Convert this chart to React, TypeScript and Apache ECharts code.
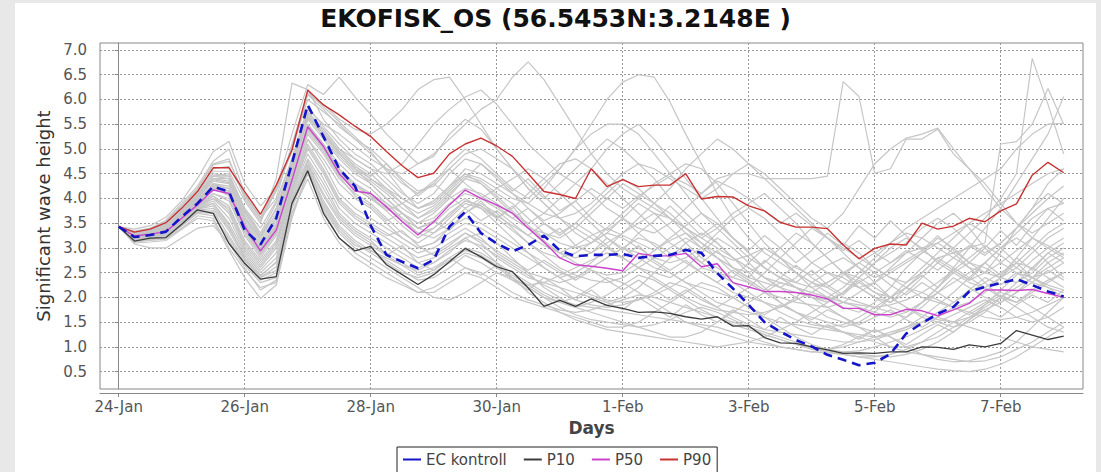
import React, { useEffect, useRef } from "react";
import * as echarts from "echarts";

// Time step: 6 hours, starting 24-Jan 00:00 (values are in days from 24-Jan)
const stepDays = 0.25;
const xTickDays = [0, 2, 4, 6, 8, 10, 12, 14];
const xTickLabels = ["24-Jan", "26-Jan", "28-Jan", "30-Jan", "1-Feb", "3-Feb", "5-Feb", "7-Feb"];
const yTicks = [0.5, 1.0, 1.5, 2.0, 2.5, 3.0, 3.5, 4.0, 4.5, 5.0, 5.5, 6.0, 6.5, 7.0];

const ecKontroll = [
  3.43, 3.22, 3.26, 3.33, 3.63, 3.90, 4.24, 4.14, 3.36, 3.07, 3.60, 4.71,
  5.89, 5.25, 4.60, 4.25, 3.45, 2.86, 2.72, 2.59, 2.76, 3.43, 3.73, 3.30,
  3.09, 2.93, 3.06, 3.25, 2.95, 2.83, 2.86, 2.86, 2.88, 2.80, 2.84, 2.86,
  2.96, 2.90, 2.49, 2.18, 1.85, 1.50, 1.31, 1.14, 1.01, 0.84, 0.74, 0.63,
  0.68, 0.86, 1.27, 1.48, 1.67, 1.81, 2.12, 2.21, 2.29, 2.37, 2.25, 2.12, 2.02,
];
const p10 = [
  3.43, 3.14, 3.20, 3.21, 3.48, 3.77, 3.70, 3.09, 2.69, 2.37, 2.42, 3.90,
  4.56, 3.70, 3.20, 2.94, 3.03, 2.66, 2.46, 2.26, 2.46, 2.72, 2.99, 2.82,
  2.62, 2.52, 2.19, 1.82, 1.94, 1.82, 1.97, 1.84, 1.78, 1.70, 1.71, 1.68,
  1.61, 1.56, 1.61, 1.42, 1.43, 1.19, 1.08, 1.07, 1.00, 0.94, 0.87, 0.88,
  0.87, 0.90, 0.90, 1.00, 0.99, 0.95, 1.04, 1.00, 1.07, 1.33, 1.24, 1.15, 1.22,
];
const p50 = [
  3.43, 3.24, 3.28, 3.33, 3.60, 3.87, 4.17, 4.10, 3.43, 2.94, 3.36, 4.37,
  5.45, 5.05, 4.50, 4.15, 4.10, 3.83, 3.53, 3.26, 3.53, 3.87, 4.17, 4.00,
  3.87, 3.70, 3.40, 3.12, 2.80, 2.66, 2.63, 2.59, 2.54, 2.89, 2.84, 2.84,
  2.89, 2.62, 2.68, 2.30, 2.21, 2.12, 2.12, 2.10, 2.05, 1.97, 1.78, 1.78,
  1.65, 1.65, 1.76, 1.73, 1.63, 1.75, 1.88, 2.15, 2.15, 2.14, 2.16, 2.08, 2.00,
];
const p90 = [
  3.43, 3.32, 3.38, 3.51, 3.80, 4.14, 4.62, 4.62, 4.14, 3.68, 4.27, 4.98,
  6.19, 5.89, 5.69, 5.46, 5.25, 4.95, 4.66, 4.42, 4.51, 4.90, 5.10, 5.22,
  5.06, 4.85, 4.50, 4.14, 4.08, 4.00, 4.60, 4.24, 4.38, 4.24, 4.27, 4.27,
  4.50, 3.99, 4.04, 4.03, 3.85, 3.75, 3.52, 3.42, 3.42, 3.39, 3.06, 2.78,
  2.99, 3.08, 3.06, 3.50, 3.38, 3.44, 3.60, 3.53, 3.75, 3.89, 4.47, 4.73, 4.52,
];

// Ensemble members (grey)
const member01 = [3.43,3.38,3.45,3.62, 3.95,4.40,4.95,5.15, 4.30,3.85,4.20,5.30, 6.30,6.10,6.45,6.05, 5.70,5.30,5.00,4.70, 4.85,5.30,5.60,5.40, 5.00,4.60,4.20,3.90, 3.60,3.30,3.10,3.30, 3.60,3.90,3.70,3.40, 3.10,2.80,2.60,2.40, 2.70,3.00,2.80,2.50, 2.20,2.00,1.80,1.70, 1.90,2.20,2.60,2.90, 3.20,3.00,2.70,2.50, 2.90,3.40,3.80,4.10, 3.90];
const member02 = [3.43,3.30,3.36,3.50, 3.85,4.20,4.70,4.80, 4.00,3.55,4.15,5.00, 6.00,5.75,5.50,5.20, 4.90,4.60,4.30,4.10, 4.30,4.70,5.00,4.80, 4.50,4.20,4.00,4.30, 4.60,5.00,5.50,6.00, 6.35,6.50,6.45,5.95, 5.30,4.70,4.10,3.60, 3.20,2.90,2.70,2.50, 2.30,2.20,2.00,1.90, 1.80,1.70,1.60,1.80, 2.10,2.40,2.20,2.00, 1.90,2.10,2.40,2.70, 2.90];
const member03 = [3.43,3.28,3.33,3.45, 3.75,4.05,4.45,4.50, 3.80,3.30,3.90,4.80, 5.80,5.50,5.30,5.05, 4.80,4.60,4.50,4.70, 4.90,5.20,5.50,5.80, 6.00,6.45,6.76,6.40, 5.90,5.40,4.90,4.50, 4.20,4.00,3.80,3.60, 3.40,3.20,3.40,3.70, 3.90,4.10,3.80,3.50, 3.10,2.80,2.50,2.30, 2.10,2.00,2.20,2.50, 2.80,2.60,2.40,2.20, 2.00,1.90,2.10,2.30, 2.50];
const member04 = [3.43,3.34,3.40,3.56, 3.90,4.25,4.75,5.00, 4.10,3.60,4.00,5.10, 6.10,5.90,5.60,5.40, 5.30,5.50,5.80,6.20, 6.40,6.45,6.00,5.50, 5.00,4.60,4.20,3.90, 3.60,3.40,3.20,3.00, 2.80,2.60,2.50,2.40, 2.60,2.90,3.20,3.00, 2.70,2.40,2.20,2.00, 1.80,1.60,1.50,1.40, 1.30,1.40,1.60,1.90, 2.20,2.50,2.70,2.60, 2.40,2.30,2.50,2.80, 3.00];
const member05 = [3.43,3.26,3.30,3.40, 3.70,4.00,4.40,4.40, 3.60,3.20,3.80,4.60, 5.60,5.40,5.00,4.80, 4.60,4.50,4.70,5.10, 5.50,5.80,6.05,6.19, 5.90,5.50,5.10,4.80, 4.50,4.30,4.60,5.00, 5.30,5.50,5.20,4.80, 4.40,4.00,3.60,3.20, 2.90,2.60,2.40,2.20, 2.00,1.90,2.10,2.40, 2.70,3.00,3.20,3.00, 2.70,2.50,2.30,2.20, 2.40,2.70,3.00,3.30, 3.50];
const member06 = [3.43,3.25,3.29,3.35, 3.62,3.90,4.20,4.15, 3.45,2.95,3.40,4.40, 5.50,5.10,4.60,4.30, 4.10,3.90,3.70,3.50, 3.70,4.00,4.20,4.10, 3.90,3.70,3.50,3.70, 4.00,4.30,4.10,3.80, 3.60,3.40,3.30,3.50, 3.80,4.10,4.40,4.50, 4.50,4.40,4.40,4.40, 4.40,4.45,6.36,6.06, 4.51,4.60,5.20,5.20, 5.40,4.90,4.60,4.30, 3.90,3.50,3.20,3.00, 2.80];
const member07 = [3.43,3.20,3.24,3.28, 3.55,3.80,4.00,3.80, 3.10,2.70,3.10,4.20, 5.20,4.70,4.10,3.80, 3.60,3.40,3.20,3.00, 3.10,3.40,3.60,3.50, 3.30,3.10,2.90,2.70, 2.50,2.40,2.60,2.80, 3.00,3.20,3.10,2.90, 2.70,2.50,2.30,2.10, 2.00,1.90,1.80,2.00, 2.30,2.50,2.40,2.20, 2.00,1.90,2.10,2.40, 2.70,3.00,3.30,3.60, 4.00,4.50,6.83,5.90, 4.90];
const member08 = [3.43,3.23,3.28,3.36, 3.64,3.92,4.22,4.12, 3.40,2.92,3.38,4.38, 5.48,5.08,4.55,4.20, 4.00,3.75,3.45,3.20, 3.40,3.70,3.95,3.85, 3.60,3.35,3.10,2.85, 2.60,2.45,2.35,2.30, 2.40,2.60,2.80,3.00, 3.20,3.00,2.80,2.60, 2.40,2.30,2.20,2.40, 2.70,2.90,3.10,2.90, 2.60,2.40,2.30,2.50, 2.80,2.90,3.00,3.10, 5.10,5.15,5.50,6.22, 5.50];
const member09 = [3.43,3.30,3.35,3.48, 3.80,4.10,4.55,4.55, 3.95,3.50,4.40,6.33, 6.20,5.60,5.20,4.90, 4.70,4.40,4.10,3.90, 4.10,4.50,4.80,4.70, 4.40,4.10,3.80,3.50, 3.30,3.50,3.80,4.10, 4.40,4.20,3.90,3.60, 3.30,3.00,2.80,2.60, 2.50,2.70,3.00,3.30, 3.10,2.80,2.50,2.20, 2.00,1.80,1.70,1.90, 2.20,2.60,3.00,3.40, 3.80,4.30,4.80,5.30, 6.06];
const member10 = [3.43,3.12,3.15,3.18, 3.40,3.65,3.60,3.00, 2.55,2.20,2.30,3.70, 4.50,3.80,3.30,3.00, 2.80,2.60,2.40,2.20, 2.00,1.95,2.10,2.30, 2.50,2.40,2.20,2.00, 1.80,1.65,1.55,1.50, 1.45,1.40,1.45,1.55, 1.70,1.80,1.70,1.55, 1.40,1.25,1.15,1.05, 0.95,0.90,0.85,0.80, 0.80,0.85,0.95,1.10, 1.30,1.50,1.70,1.90, 2.10,2.00,1.80,1.60, 1.40];
const member11 = [3.43,3.22,3.27,3.36, 3.65,3.95,4.30,4.20, 3.50,3.00,3.50,4.50, 5.60,5.20,4.80,4.50, 4.30,4.00,3.70,3.40, 3.30,3.50,3.80,4.00, 4.20,4.40,4.60,4.40, 4.10,3.80,3.50,3.20, 3.00,2.80,2.60,2.50, 2.30,2.20,2.10,2.00, 2.20,2.50,2.80,3.10, 3.40,3.20,2.90,2.60, 2.30,2.00,1.80,1.60, 1.50,1.40,1.50,1.70, 2.00,2.30,2.60,2.90, 3.10];
const member12 = [3.43,3.16,3.22,3.25, 3.50,3.80,3.90,3.50, 2.90,2.50,2.80,4.00, 4.80,4.30,3.70,3.40, 3.20,3.00,2.80,2.60, 2.70,2.90,3.20,3.30, 3.10,2.80,2.50,2.20, 2.00,1.80,1.70,1.60, 1.50,1.40,1.30,1.20, 1.20,1.30,1.50,1.70, 1.90,2.10,2.30,2.20, 2.00,1.80,1.60,1.40, 1.20,1.00,0.90,0.85, 0.80,0.75,0.70,0.72, 0.80,0.95,1.10,1.30, 1.50];
const member13 = [3.43,3.28,3.32,3.42, 3.72,4.00,4.40,4.35, 3.70,3.20,3.70,4.70, 5.70,5.30,4.90,4.60, 4.40,4.20,4.00,3.80, 3.90,4.20,4.50,4.40, 4.20,4.00,3.90,4.20, 4.60,5.00,5.30,5.50, 5.50,5.30,4.90,4.50, 4.10,3.70,3.40,3.10, 2.80,2.60,2.40,2.30, 2.20,2.30,2.50,2.70, 2.90,3.10,3.30,3.20, 3.00,2.80,2.60,2.50, 2.40,2.60,2.90,3.20, 3.40];
const member14 = [3.43,3.15,3.18,3.22, 3.45,3.70,3.65,3.20, 2.70,2.35,2.50,3.85, 4.60,3.90,3.40,3.10, 2.90,2.70,2.50,2.40, 2.50,2.70,2.90,2.80, 2.60,2.40,2.20,2.00, 1.90,2.00,2.20,2.40, 2.30,2.10,1.90,1.70, 1.50,1.40,1.30,1.20, 1.10,1.05,1.00,0.95, 0.90,0.88,0.85,0.80, 0.75,0.70,0.65,0.60, 0.55,0.52,0.50,0.55, 0.65,0.80,1.00,1.20, 1.40];
const member15 = [3.43,3.23,3.27,3.34, 3.60,3.85,4.10,4.00, 3.30,2.85,3.30,4.30, 5.30,4.90,4.40,4.10, 3.90,3.60,3.30,3.10, 3.30,3.60,3.90,3.80, 3.60,3.80,4.10,4.40, 4.70,4.80,4.60,4.30, 4.00,3.70,3.40,3.10, 2.90,2.70,2.50,2.40, 2.30,2.10,1.90,1.70, 1.60,1.50,1.40,1.50, 1.70,2.00,2.30,2.60, 2.90,3.20,3.50,3.30, 3.00,2.70,2.40,2.20, 2.00];
const member16 = [3.43,3.20,3.25,3.30, 3.55,3.82,4.05,3.85, 3.15,2.75,3.15,4.20, 5.10,4.60,4.00,3.70, 3.50,3.30,3.10,2.90, 3.00,3.20,3.40,3.20, 2.90,2.70,2.50,2.40, 2.30,2.40,2.60,2.80, 3.00,2.90,2.70,2.50, 2.30,2.10,1.90,1.80, 1.70,1.60,1.50,1.45, 1.40,1.35,1.30,1.25, 1.20,1.25,1.35,1.50, 1.70,1.90,2.10,2.30, 2.50,2.70,2.60,2.40, 2.20];
const member17 = [3.43,3.27,3.31,3.40, 3.70,4.00,4.35,4.30, 3.60,3.10,3.60,4.60, 5.70,5.30,4.90,4.60, 4.30,4.00,3.70,3.50, 3.60,3.90,4.10,4.00, 3.80,3.60,3.40,3.30, 3.20,3.40,3.70,4.00, 4.30,4.10,3.90,4.20, 4.60,4.90,5.20,5.00, 4.70,4.40,4.10,3.80, 3.50,3.20,3.00,2.80, 2.60,2.40,2.20,2.00, 1.90,1.80,1.90,2.10, 2.40,2.80,3.20,3.60, 4.00];
const member18 = [3.43,3.25,3.30,3.38, 3.68,3.98,4.30,4.25, 3.55,3.05,3.55,4.55, 5.65,5.25,4.85,4.55, 4.35,4.10,3.80,3.60, 3.80,4.10,4.40,4.30, 4.00,3.70,3.40,3.10, 2.90,2.80,2.90,3.10, 3.30,3.50,3.70,3.60, 3.40,3.20,3.00,2.80, 2.60,2.40,2.30,2.20, 2.10,2.00,2.20,2.50, 2.80,3.10,3.40,3.60, 3.80,4.00,4.20,4.40, 4.60,5.00,5.30,5.50, 5.52];
const member19 = [3.43,3.10,3.12,3.15, 3.38,3.60,3.55,2.95, 2.40,1.98,2.25,3.60, 4.55,3.75,3.20,2.90, 2.70,2.50,2.30,2.10, 2.10,2.30,2.50,2.40, 2.20,2.00,1.90,1.80, 1.70,1.60,1.50,1.40, 1.40,1.50,1.70,1.90, 2.10,2.30,2.20,2.00, 1.80,1.60,1.40,1.20, 1.05,0.95,0.90,0.92, 1.00,1.10,1.20,1.35, 1.50,1.65,1.80,1.95, 1.80,1.60,1.50,1.60, 1.80];
const member20 = [3.43,3.24,3.29,3.37, 3.66,3.93,4.25,4.10, 3.40,2.90,3.40,4.40, 5.40,5.00,4.50,4.20, 4.00,3.80,3.60,3.40, 3.50,3.80,4.00,3.80, 3.50,3.20,2.90,2.60, 2.40,2.50,2.70,3.00, 3.30,3.60,3.90,3.70, 3.40,3.10,2.80,2.50, 2.30,2.10,2.00,1.90, 1.85,1.80,1.90,2.10, 2.30,2.60,2.90,3.20, 3.50,3.70,3.40,3.00, 2.70,2.50,2.40,2.50, 2.70];
const member21 = [3.43,3.19,3.24,3.30, 3.56,3.84,4.00,3.70, 3.00,2.60,3.00,4.10, 5.00,4.50,3.90,3.60, 3.40,3.20,3.00,2.80, 2.90,3.10,3.30,3.10, 2.80,2.60,2.40,2.30, 2.20,2.10,2.00,1.90, 2.00,2.20,2.50,2.80, 3.10,3.30,3.10,2.80, 2.50,2.20,1.90,1.70, 1.50,1.40,1.30,1.20, 1.10,1.00,1.00,1.10, 1.20,1.40,1.60,1.80, 2.00,2.20,2.40,2.60, 2.80];
const member22 = [3.43,3.29,3.34,3.46, 3.76,4.08,4.50,4.45, 3.80,3.40,3.95,4.80, 5.85,5.45,5.10,4.80, 4.60,4.30,4.00,3.80, 3.95,4.25,4.60,4.50, 4.30,4.10,3.90,3.70, 3.60,3.70,3.90,4.20, 4.50,4.70,4.60,4.40, 4.20,4.00,4.20,4.50, 4.70,4.50,4.20,3.90, 3.60,3.40,3.70,4.20, 4.70,5.00,5.22,5.30, 5.42,5.00,4.60,4.20, 3.80,3.50,3.30,3.50, 3.70];
const member23 = [3.43,3.17,3.21,3.26, 3.52,3.78,3.85,3.40, 2.85,2.45,2.70,3.95, 4.70,4.10,3.60,3.30, 3.10,2.90,2.70,2.50, 2.60,2.80,3.00,2.90, 2.70,2.50,2.30,2.10, 1.95,1.85,1.80,1.75, 1.70,1.65,1.60,1.55, 1.50,1.45,1.40,1.30, 1.20,1.10,1.00,0.95, 0.90,0.95,1.05,1.20, 1.35,1.20,1.00,0.85, 0.75,0.70,0.72,0.80, 0.90,1.10,1.40,1.70, 2.00];
const member24 = [3.43,3.26,3.30,3.39, 3.68,3.96,4.28,4.20, 3.50,3.00,3.45,4.45, 5.50,5.10,4.70,4.40, 4.20,3.90,3.60,3.30, 3.20,3.40,3.70,3.90, 3.70,3.40,3.10,2.90, 2.80,2.90,3.10,3.40, 3.70,4.00,4.30,4.50, 4.70,4.60,4.30,3.90, 3.50,3.10,2.80,2.50, 2.30,2.10,1.90,1.80, 1.70,1.60,1.70,1.90, 2.10,2.30,2.50,2.70, 3.00,3.30,3.60,3.80, 3.90];
const member25 = [3.43,3.08,3.00,3.00, 3.20,3.40,3.45,3.10, 2.60,2.15,2.35,3.70, 4.40,3.60,3.10,2.80, 2.60,2.40,2.25,2.10, 2.20,2.40,2.60,2.50, 2.30,2.10,1.95,1.85, 1.75,1.70,1.75,1.85, 1.95,2.05,2.00,1.90, 1.80,1.70,1.60,1.50, 1.40,1.30,1.20,1.10, 1.00,0.95,1.00,1.10, 1.20,1.30,1.40,1.50, 1.60,1.50,1.40,1.30, 1.20,1.10,1.00,0.95, 0.90];
const member26 = [3.43,3.31,3.37,3.50, 3.82,4.15,4.60,4.65, 4.05,3.60,4.15,4.95, 6.10,5.80,5.45,5.20, 5.00,4.70,4.40,4.15, 4.25,4.60,4.90,5.00, 4.80,4.60,4.30,4.00, 4.30,4.60,4.90,5.20, 5.00,4.70,4.40,4.00, 3.70,3.40,3.10,2.80, 2.60,2.40,2.20,2.10, 2.00,1.95,2.10,2.40, 2.70,2.90,3.10,3.40, 3.60,3.40,3.10,2.90, 3.10,3.40,3.80,4.30, 4.60];
const member27 = [3.43,3.13,3.17,3.20, 3.44,3.72,3.70,3.15, 2.65,2.30,2.40,3.80, 4.60,3.85,3.35,3.05, 2.95,2.75,2.55,2.35, 2.40,2.60,2.85,2.70, 2.50,2.35,2.25,2.30, 2.45,2.60,2.75,2.90, 2.80,2.60,2.40,2.20, 2.00,1.85,1.75,1.70, 1.65,1.70,1.80,1.95, 2.10,2.30,2.50,2.40, 2.20,2.00,1.80,1.65, 1.55,1.50,1.60,1.75, 1.90,2.10,2.30,2.20, 2.10];
const member28 = [3.43,3.29,3.33,3.44, 3.74,4.04,4.45,4.40, 3.75,3.25,3.80,4.75, 5.75,5.40,5.00,4.70, 4.50,4.20,3.90,3.70, 3.85,4.15,4.45,4.35, 4.10,3.90,3.60,3.30, 3.10,3.00,3.10,3.30, 3.20,3.00,2.80,2.70, 2.80,3.00,3.30,3.60, 3.80,3.60,3.30,3.00, 2.70,2.50,2.30,2.20, 2.30,2.50,2.70,2.90, 3.10,3.30,3.50,3.70, 3.90,4.10,4.30,4.50, 4.60];
const member29 = [3.43,3.21,3.26,3.32, 3.58,3.86,4.10,3.95, 3.25,2.80,3.25,4.25, 5.20,4.80,4.30,4.00, 3.80,3.50,3.20,3.00, 3.10,3.30,3.50,3.40, 3.20,3.00,2.80,2.60, 2.40,2.20,2.05,1.95, 1.90,1.95,2.05,2.20, 2.40,2.60,2.50,2.30, 2.10,1.90,1.70,1.55, 1.45,1.40,1.45,1.60, 1.80,2.00,2.20,2.10, 1.95,1.80,1.70,1.60, 1.55,1.60,1.70,1.85, 2.00];
const member30 = [3.43,3.18,3.23,3.28, 3.54,3.80,3.95,3.60, 2.95,2.55,2.90,4.05, 4.90,4.40,3.80,3.50, 3.30,3.10,2.90,2.70, 2.80,3.00,3.20,3.00, 2.70,2.40,2.10,1.90, 1.70,1.55,1.45,1.35, 1.30,1.25,1.20,1.15, 1.10,1.05,1.00,1.05, 1.10,1.20,1.35,1.50, 1.70,1.90,2.10,2.30, 2.50,2.70,2.90,3.00, 3.10,2.90,2.60,2.30, 2.00,1.80,1.60,1.40, 1.30];
const member31 = [3.43,3.23,3.28,3.35, 3.62,3.92,4.22,4.05, 3.35,2.88,3.32,4.35, 5.35,4.95,4.45,4.05, 3.85,3.55,3.70,3.40, 3.55,3.35,3.70,3.95, 3.60,3.85,3.45,3.20, 3.40,3.05,2.90,3.20, 2.95,3.30,3.05,2.80, 3.00,2.70,2.95,2.60, 2.40,2.75,2.50,2.30, 2.55,2.25,2.05,2.35, 2.10,1.90,2.20,2.45, 2.20,2.55,2.35,2.70, 2.45,2.80,2.55,2.90, 2.70];
const member32 = [3.43,3.17,3.22,3.27, 3.50,3.78,3.90,3.45, 2.80,2.42,2.72,3.92, 4.75,4.20,3.65,3.35, 3.15,2.85,3.05,2.70, 2.55,2.80,2.60,2.45, 2.65,2.35,2.15,2.40, 2.20,1.95,2.15,1.90, 1.75,2.00,1.80,1.60, 1.85,1.65,1.50,1.75, 1.55,1.35,1.60,1.40, 1.25,1.45,1.30,1.15, 1.35,1.20,1.05,1.25, 1.45,1.30,1.55,1.75, 1.60,1.85,2.05,1.90, 2.15];
const member33 = [3.43,3.27,3.32,3.43, 3.72,4.02,4.38,4.32, 3.65,3.15,3.65,4.65, 5.65,5.30,4.95,4.65, 4.45,4.70,4.35,4.05, 4.30,4.05,4.40,4.70, 4.45,4.15,4.40,4.05, 3.75,3.95,3.60,3.35, 3.60,3.30,3.55,3.85, 3.55,3.25,3.50,3.20, 2.95,3.25,3.00,2.70, 2.95,3.30,3.05,3.45, 3.20,3.55,3.25,2.95, 3.25,2.95,2.70,3.00, 3.35,3.05,3.45,3.80, 3.55];
const member34 = [3.43,3.14,3.19,3.23, 3.46,3.74,3.75,3.25, 2.75,2.40,2.55,3.88, 4.65,3.95,3.45,3.15, 2.95,2.80,2.65,2.55, 2.70,2.95,3.15,3.05, 2.85,2.65,2.45,2.25, 2.10,1.95,1.85,1.80, 1.85,1.95,2.10,2.30, 2.20,2.00,1.80,1.60, 1.45,1.35,1.30,1.25, 1.20,1.15,1.10,1.10, 1.15,1.25,1.40,1.60, 1.85,2.10,2.40,2.70, 3.00,3.20,3.00,2.70, 2.40];
const member35 = [3.43,3.25,3.29,3.38, 3.66,3.94,4.26,4.15, 3.45,2.96,3.42,4.42, 5.45,5.05,4.55,4.30, 4.05,3.75,3.90,3.60, 3.75,4.05,3.80,3.55, 3.75,3.50,3.25,3.50, 3.25,3.50,3.30,3.05, 2.80,3.05,2.75,2.55, 2.75,2.50,2.30,2.55, 2.35,2.15,2.40,2.65, 2.40,2.20,2.45,2.70, 2.50,2.25,2.05,2.30, 2.10,1.90,2.15,2.40, 2.25,2.50,2.30,2.55, 2.35];
const member36 = [3.43,3.28,3.33,3.45, 3.75,4.05,4.45,4.45, 3.75,3.25,3.78,4.72, 5.75,5.35,4.95,4.65, 4.40,4.15,3.90,4.10, 4.35,4.60,4.30,4.05, 3.85,3.60,3.80,3.55, 3.70,3.95,4.20,4.00, 3.80,4.05,4.25,4.45, 4.30,4.10,4.35,4.20, 4.00,3.75,3.50,3.70, 3.45,3.20,2.95,3.15, 2.90,2.70,2.95,2.75, 2.55,2.80,3.05,2.85, 3.10,3.40,3.70,4.00, 4.25];
const member37 = [3.43,3.19,3.25,3.31, 3.57,3.85,4.05,3.75, 3.05,2.65,3.05,4.15, 5.05,4.55,3.95,3.65, 3.45,3.25,3.35,3.05, 2.85,3.05,3.30,3.15, 2.95,2.75,2.55,2.75, 2.55,2.35,2.55,2.35, 2.15,2.35,2.15,1.95, 2.15,1.95,1.80,2.00, 1.80,1.65,1.85,1.70, 1.55,1.75,1.60,1.45, 1.60,1.75,1.55,1.40, 1.60,1.80,1.65,1.85, 2.05,1.90,2.15,2.35, 2.50];
const member38 = [3.43,3.32,3.39,3.53, 3.86,4.20,4.68,4.75, 4.08,3.62,4.20,5.02, 6.15,5.85,5.55,5.25, 4.95,4.55,4.15,3.80, 3.95,4.25,4.50,4.30, 4.05,3.75,3.45,3.15, 2.90,2.70,2.55,2.45, 2.50,2.70,2.95,3.20, 3.45,3.70,3.50,3.20, 2.90,2.60,2.40,2.20, 2.10,2.00,1.90,1.85, 1.80,1.85,1.95,2.10, 2.30,2.55,2.80,3.05, 2.85,2.60,2.40,2.25, 2.15];
const member39 = [3.43,3.22,3.26,3.33, 3.61,3.89,4.19,4.08, 3.38,2.90,3.35,4.35, 5.40,5.00,4.55,4.25, 4.05,3.85,3.55,3.30, 3.40,3.65,3.95,3.85, 3.65,3.45,3.25,3.05, 2.90,3.05,3.25,3.40, 3.25,3.10,2.95,3.15, 3.30,3.10,2.90,2.75, 2.85,3.00,2.80,2.60, 2.45,2.65,2.80,2.60, 2.40,2.55,2.75,2.95, 2.75,2.55,2.35,2.50, 2.70,2.95,3.20,3.05, 2.85];
const member40 = [3.43,3.16,3.20,3.24, 3.48,3.76,3.80,3.35, 2.78,2.40,2.62,3.90, 4.68,4.05,3.55,3.25, 3.05,2.85,2.65,2.45, 2.55,2.75,2.95,2.85, 2.65,2.45,2.25,2.05, 1.90,1.80,1.90,2.05, 2.25,2.45,2.35,2.15, 1.95,1.75,1.60,1.45, 1.35,1.25,1.15,1.05, 0.98,0.92,0.88,0.85, 0.82,0.80,0.85,0.95, 1.10,1.30,1.55,1.85, 2.15,2.45,2.75,3.00, 3.20];

const members = [
  member01, member02, member03, member04, member05, member06, member07, member08,
  member09, member10, member11, member12, member13, member14, member15, member16,
  member17, member18, member19, member20, member21, member22, member23, member24,
  member25, member26, member27, member28, member29, member30, member31, member32,
  member33, member34, member35, member36, member37, member38, member39, member40,
];

const toPairs = (arr: number[]) => arr.map((v, i) => [i * stepDays, v]);
const FONT = "DejaVu Sans";

export default function App() {
  const ref = useRef<HTMLDivElement>(null);
  useEffect(() => {
    if (!ref.current) return;
    const chart = echarts.init(ref.current, undefined, { renderer: "svg" });

    const greySeries = members.map((m, k) => ({
      name: "member" + (k + 1),
      type: "line",
      data: toPairs(m),
      showSymbol: false,
      symbol: "none",
      silent: true,
      lineStyle: { color: "#c6c6c6", width: 1.2 },
      z: 2,
    }));

    const option: any = {
      animation: false,
      textStyle: { fontFamily: FONT },
      graphic: [
        {
          type: "text",
          x: 555.5,
          y: 18,
          style: {
            text: "EKOFISK_OS (56.5453N:3.2148E )",
            font: `bold 25px "${FONT}"`,
            fill: "#111",
            textAlign: "center",
            textVerticalAlign: "middle",
          },
        },
      ],
      grid: {
        left: 100,
        right: 18,
        top: 43,
        bottom: 83,
        show: true,
        borderColor: "#888",
        borderWidth: 1,
        backgroundColor: "transparent",
      },
      legend: {
        left: 397,
        top: 447,
        padding: [5, 6, 8, 6],
        itemGap: 17,
        itemWidth: 18,
        itemHeight: 2,
        icon: "rect",
        borderColor: "#222",
        borderWidth: 1,
        textStyle: { fontSize: 15, color: "#444", fontFamily: FONT },
        data: ["EC kontroll", "P10", "P50", "P90"],
      },
      xAxis: {
        type: "value",
        min: -0.297,
        max: 15.306,
        offset: 4,
        name: "Days",
        nameLocation: "middle",
        nameGap: 26,
        nameTextStyle: { fontSize: 17, fontWeight: "bold", color: "#444", fontFamily: FONT },
        axisLine: { show: true, lineStyle: { color: "#888" } },
        axisTick: { show: true, length: 4, inside: false, customValues: xTickDays, lineStyle: { color: "#888" } },
        axisLabel: {
          customValues: xTickDays,
          margin: 6,
          fontSize: 15,
          color: "#555",
          fontFamily: FONT,
          formatter: (v: number) => {
            const idx = xTickDays.indexOf(Math.round(v));
            return idx >= 0 ? xTickLabels[idx] : "";
          },
        },
        splitLine: { show: true, lineStyle: { color: "#999", type: [2, 2], width: 1 } },
      },
      yAxis: {
        type: "value",
        min: 0.15,
        max: 7.141,
        offset: 5,
        name: "Significant wave height",
        nameLocation: "middle",
        nameGap: 42,
        nameTextStyle: { fontSize: 18, color: "#333", fontFamily: FONT },
        axisLine: { show: true, lineStyle: { color: "#888" } },
        axisTick: { show: true, length: 4, customValues: yTicks, lineStyle: { color: "#888" } },
        axisLabel: {
          customValues: yTicks,
          margin: 8,
          fontSize: 15,
          color: "#555",
          fontFamily: FONT,
          formatter: (v: number) => v.toFixed(1),
        },
        splitLine: { show: true, lineStyle: { color: "#999", type: [2, 2], width: 1 } },
      },
      series: [
        ...greySeries,
        {
          name: "P10",
          type: "line",
          data: toPairs(p10),
          showSymbol: false,
          symbol: "none",
          lineStyle: { color: "#3c3c3c", width: 1.3 },
          itemStyle: { color: "#3c3c3c" },
          z: 3,
        },
        {
          name: "P50",
          type: "line",
          data: toPairs(p50),
          showSymbol: false,
          symbol: "none",
          lineStyle: { color: "#cc44cc", width: 1.4 },
          itemStyle: { color: "#cc44cc" },
          z: 3,
        },
        {
          name: "P90",
          type: "line",
          data: toPairs(p90),
          showSymbol: false,
          symbol: "none",
          lineStyle: { color: "#c83232", width: 1.4 },
          itemStyle: { color: "#c83232" },
          z: 3,
        },
        {
          name: "EC kontroll",
          type: "line",
          data: toPairs(ecKontroll),
          showSymbol: false,
          symbol: "none",
          lineStyle: { color: "#1414c8", width: 2.6, type: [9, 6] },
          itemStyle: { color: "#1414c8" },
          z: 4,
        },
      ],
    };
    chart.setOption(option);
    return () => chart.dispose();
  }, []);

  return (
    <div style={{ position: "fixed", left: 0, top: 0, width: 1101, height: 472, background: "#e8e8e8", overflow: "hidden" }}>
      <div style={{ position: "absolute", left: 15, top: 3, width: 1081, height: 469, background: "#ffffff" }} />
      <div ref={ref} style={{ position: "absolute", left: 0, top: 0, width: 1101, height: 472 }} />
    </div>
  );
}
